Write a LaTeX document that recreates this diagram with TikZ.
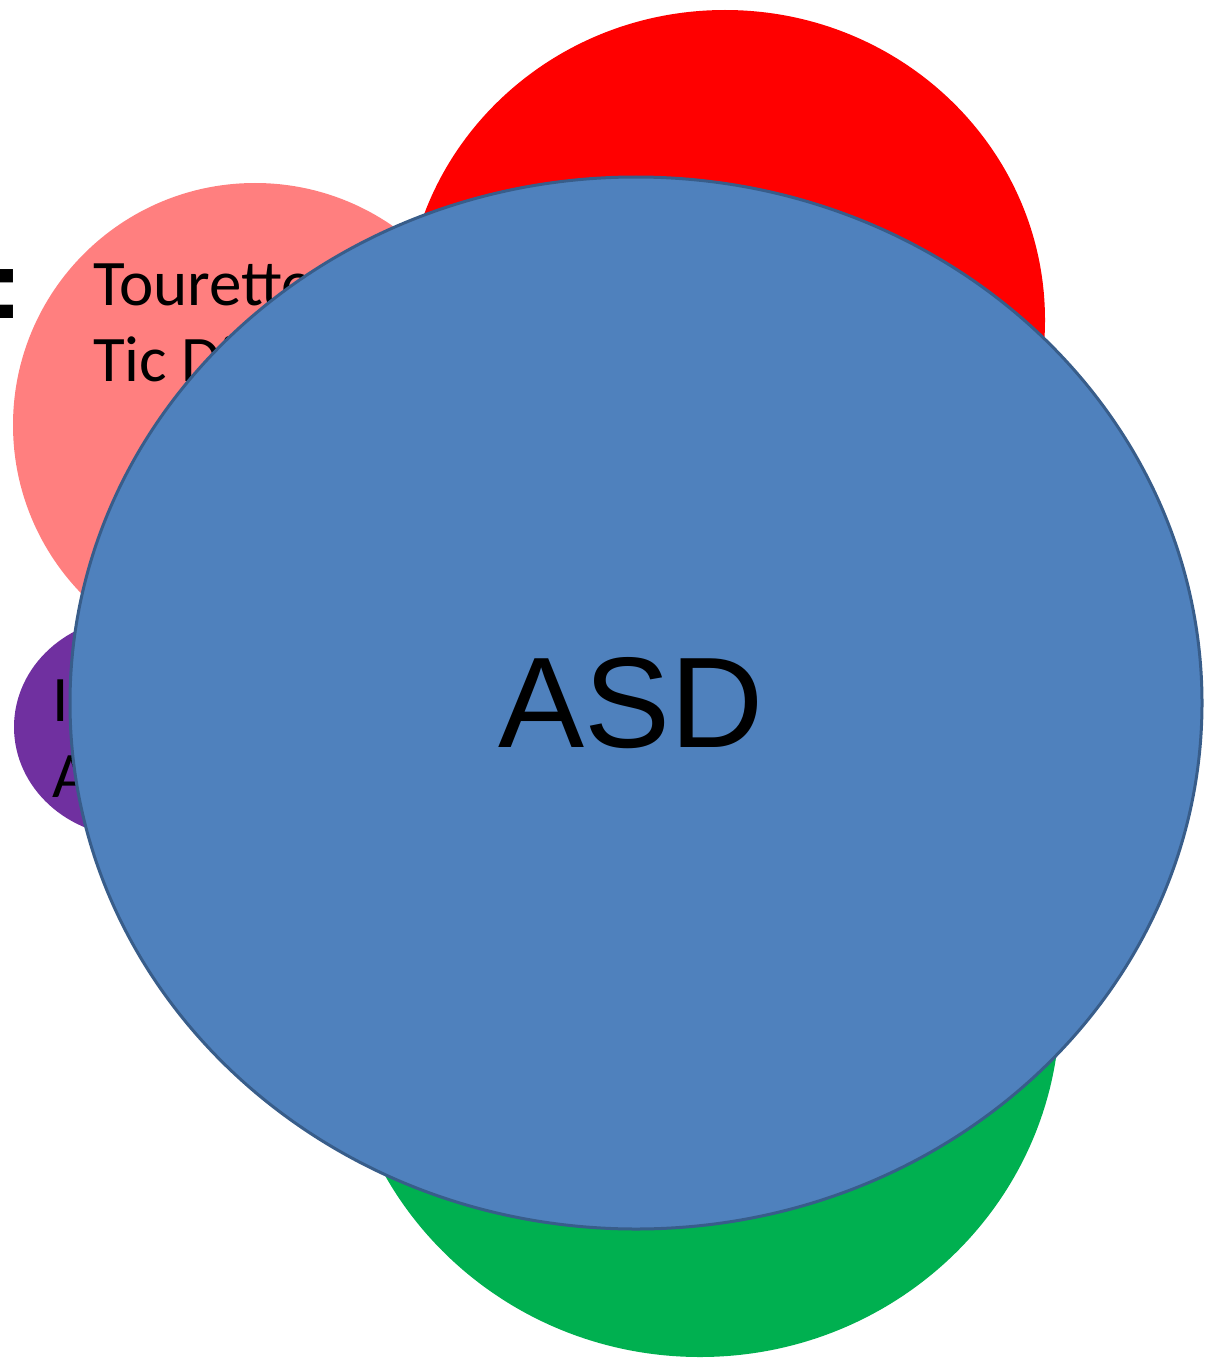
\documentclass[tikz,border=0pt]{standalone}
\usepackage{fontspec}
\usetikzlibrary{shapes.geometric}
\setmainfont{Liberation Sans}
\newfontfamily\calfont{Carlito}
\newfontfamily\arialfont{Liberation Sans}
\definecolor{asdfill}{HTML}{4F81BD}
\definecolor{asdline}{HTML}{385D8A}
\definecolor{redc}{HTML}{FF0000}
\definecolor{greenc}{HTML}{00B050}
\definecolor{pinkc}{HTML}{FF7F7F}
\definecolor{purplec}{HTML}{7030A0}
\tikzset{
  label62/.style={font=\calfont\fontsize{65}{76}\selectfont, anchor=base west, inner sep=0pt, align=left, text=black},
}
\begin{document}
\begin{tikzpicture}[x=1pt,y=-1pt]
\useasboundingbox (0,0) rectangle (1210,1359);
% background satellites
\fill[redc] (725,320) ellipse [x radius=320, y radius=310];
\fill[greenc] (700,1005) ellipse [x radius=360, y radius=352];
\fill[pinkc] (255,425) ellipse [x radius=242, y radius=242];
\fill[purplec] (134,727) ellipse [x radius=120, y radius=110];
% colon of a cut-off heading
\node[font=\arialfont\bfseries\fontsize{97}{110}\selectfont, anchor=base west, inner sep=0pt] (colon) at (-10,318) {:};
% texts of satellites (anchor = baseline of the last line)
\node[label62] (tourette) at (93,381) {Tourette\\Tic Disorder};
\node[label62] (purpletext) at (52,797) {ID\\ADHD};
% main ellipse
\node[draw=asdline, line width=3pt, fill=asdfill, ellipse, minimum width=1132pt, minimum height=1052pt, inner sep=0pt] (asd) at (636,703) {};
\node[font=\arialfont\fontsize{129}{140}\selectfont, inner sep=0pt, anchor=base] (asdtext) at (631,747) {ASD};
\end{tikzpicture}
\end{document}
